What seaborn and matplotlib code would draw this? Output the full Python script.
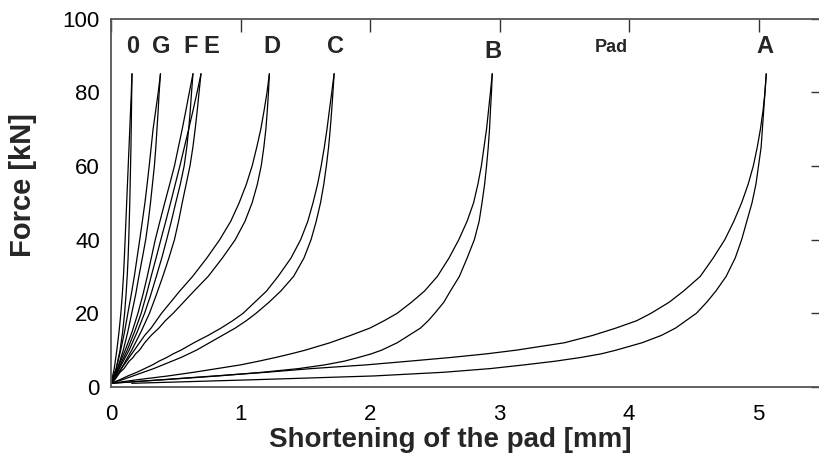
import numpy as np
import pandas as pd
import matplotlib
matplotlib.use("Agg")
import matplotlib.pyplot as plt
import seaborn as sns

force_stiff = [1, 5, 10, 15, 20, 25, 30, 35, 40, 45, 50, 55, 60, 65, 70, 75, 80, 85]
force_soft = [1, 2, 3, 4, 5, 6, 7, 8, 9, 10, 12, 14, 16, 18, 20, 23, 26, 30, 35,
              40, 45, 50, 55, 60, 65, 70, 75, 80, 85]

# Shortening [mm]: upper = left branch, lower = right branch of each loop
pad0_upper = [0, 0.025, 0.045, 0.062, 0.076, 0.087, 0.096, 0.103, 0.109, 0.115, 0.121, 0.127, 0.133, 0.139, 0.145, 0.151, 0.157, 0.162]
pad0_lower = [0, 0.04, 0.07, 0.09, 0.105, 0.116, 0.125, 0.132, 0.137, 0.141, 0.145, 0.148, 0.151, 0.154, 0.156, 0.158, 0.16, 0.162]
padG_upper = [0, 0.04, 0.075, 0.105, 0.13, 0.156, 0.18, 0.201, 0.222, 0.242, 0.262, 0.279, 0.295, 0.31, 0.325, 0.345, 0.365, 0.382]
padG_lower = [0, 0.05, 0.095, 0.13, 0.16, 0.19, 0.215, 0.242, 0.268, 0.288, 0.305, 0.32, 0.335, 0.346, 0.355, 0.364, 0.372, 0.382]
padF_upper = [0, 0.05, 0.11, 0.163, 0.208, 0.246, 0.28, 0.311, 0.342, 0.378, 0.415, 0.453, 0.49, 0.52, 0.55, 0.578, 0.605, 0.633]
padF_lower = [0, 0.065, 0.14, 0.203, 0.259, 0.307, 0.35, 0.392, 0.43, 0.466, 0.5, 0.535, 0.565, 0.585, 0.6, 0.612, 0.622, 0.633]
padE_upper = [0, 0.058, 0.125, 0.182, 0.233, 0.273, 0.31, 0.348, 0.385, 0.423, 0.46, 0.496, 0.532, 0.566, 0.6, 0.633, 0.665, 0.695]
padE_lower = [0, 0.08, 0.16, 0.232, 0.297, 0.35, 0.4, 0.447, 0.49, 0.522, 0.55, 0.58, 0.61, 0.632, 0.65, 0.666, 0.68, 0.695]

padD_upper = [0, 0.02, 0.04, 0.06, 0.08, 0.1, 0.12, 0.14, 0.16, 0.18, 0.22, 0.26, 0.31, 0.35, 0.39, 0.46, 0.53,
              0.63, 0.74, 0.84, 0.925, 0.99, 1.045, 1.09, 1.125, 1.157, 1.182, 1.205, 1.223]
padD_lower = [0, 0.03, 0.05, 0.07, 0.1, 0.12, 0.14, 0.17, 0.19, 0.22, 0.26, 0.31, 0.37, 0.42, 0.48, 0.56, 0.64,
              0.75, 0.86, 0.96, 1.035, 1.09, 1.13, 1.16, 1.18, 1.196, 1.207, 1.216, 1.223]
padC_upper = [0, 0.07, 0.13, 0.2, 0.26, 0.32, 0.37, 0.43, 0.48, 0.54, 0.64, 0.75, 0.85, 0.94, 1.02, 1.11, 1.2,
              1.29, 1.39, 1.465, 1.52, 1.56, 1.595, 1.623, 1.647, 1.668, 1.686, 1.705, 1.723]
padC_lower = [0, 0.09, 0.17, 0.25, 0.33, 0.4, 0.47, 0.54, 0.6, 0.66, 0.76, 0.86, 0.96, 1.045, 1.12, 1.22, 1.31,
              1.41, 1.49, 1.545, 1.585, 1.618, 1.643, 1.663, 1.68, 1.693, 1.704, 1.714, 1.723]
padB_upper = [0, 0.21, 0.44, 0.64, 0.82, 1.0, 1.14, 1.27, 1.39, 1.5, 1.69, 1.85, 2.0, 2.11, 2.21, 2.32, 2.42,
              2.52, 2.61, 2.686, 2.75, 2.8, 2.833, 2.86, 2.88, 2.9, 2.915, 2.93, 2.944]
padB_lower = [0, 0.42, 0.83, 1.17, 1.45, 1.65, 1.8, 1.91, 2.01, 2.09, 2.21, 2.3, 2.39, 2.45, 2.5, 2.57, 2.62,
              2.69, 2.75, 2.806, 2.843, 2.865, 2.885, 2.9, 2.913, 2.923, 2.93, 2.938, 2.944]
padA_upper = [0, 0.4, 0.8, 1.2, 1.55, 1.97, 2.3, 2.62, 2.9, 3.13, 3.5, 3.72, 3.9, 4.06, 4.17, 4.31, 4.42,
              4.55, 4.65, 4.74, 4.81, 4.87, 4.92, 4.96, 4.99, 5.015, 5.035, 5.05, 5.06]
padA_lower = [0.16, 1.13, 2.03, 2.57, 2.93, 3.19, 3.43, 3.625, 3.786, 3.9, 4.1, 4.25, 4.36, 4.44, 4.52, 4.6, 4.67,
              4.75, 4.82, 4.87, 4.91, 4.95, 4.98, 5.0, 5.02, 5.03, 5.04, 5.05, 5.06]

label_text = ["0", "G", "F", "E", "D", "C", "B", "A"]
label_x = [0.17, 0.385, 0.615, 0.777, 1.246, 1.73, 2.946, 5.05]
label_y = [92.3, 92.3, 92.3, 92.3, 92.3, 92.3, 91.0, 92.3]
pad_title = "Pad"
pad_title_xy = (3.86, 92.0)

x_ticks = [0, 1, 2, 3, 4, 5]
y_ticks = [0, 20, 40, 60, 80, 100]

curves = {
    "0u": (pad0_upper, force_stiff), "0l": (pad0_lower, force_stiff),
    "Gu": (padG_upper, force_stiff), "Gl": (padG_lower, force_stiff),
    "Fu": (padF_upper, force_stiff), "Fl": (padF_lower, force_stiff),
    "Eu": (padE_upper, force_stiff), "El": (padE_lower, force_stiff),
    "Du": (padD_upper, force_soft), "Dl": (padD_lower, force_soft),
    "Cu": (padC_upper, force_soft), "Cl": (padC_lower, force_soft),
    "Bu": (padB_upper, force_soft), "Bl": (padB_lower, force_soft),
    "Au": (padA_upper, force_soft), "Al": (padA_lower, force_soft),
}
frames = []
for name, (xs, fs) in curves.items():
    frames.append(pd.DataFrame({"x": xs, "force": fs, "curve": name}))
df = pd.concat(frames, ignore_index=True)

sns.set_style("white")
plt.rcParams["font.family"] = ["Liberation Sans", "DejaVu Sans"]

fig = plt.figure(figsize=(8.19, 4.72), dpi=100)
ax = fig.add_axes([111 / 819, 1 - 387 / 472, 5.5 * 129.5 / 819, 368.5 / 472])

sns.lineplot(data=df, x="x", y="force", units="curve", estimator=None, sort=False,
             color="black", linewidth=0.9, ax=ax, legend=False)
for ln in ax.get_lines():
    ln.set_solid_joinstyle("round")

ax.set_xlim(0, 5.5)
ax.set_ylim(0, 100)
ax.set_xticks(x_ticks)
ax.set_yticks(y_ticks)
ax.set_xticklabels([str(t) for t in x_ticks])
ax.set_yticklabels([str(t) for t in y_ticks])
ax.tick_params(direction="in", length=9, width=1, colors="#333333", labelcolor="black",
               labelsize=16, top=True, right=True)
ax.tick_params(axis="y", pad=8)
ax.tick_params(axis="x", pad=12)
for s in ax.spines.values():
    s.set_visible(True)
    s.set_color("#555555")
    s.set_linewidth(1.3)

ax.set_xlabel("Shortening of the pad [mm]", fontsize=20, fontweight="bold")
ax.set_ylabel("Force [kN]", fontsize=21, fontweight="bold")
ax.xaxis.set_label_coords((450 - 111) / 712, (387 - 427) / 368.5)
ax.yaxis.set_label_coords((37 - 111) / 712, (387 - 185) / 368.5)

for t, x, y in zip(label_text, label_x, label_y):
    ax.text(x, y, t, ha="center", va="center", fontsize=17, fontweight="bold")
ax.text(pad_title_xy[0], pad_title_xy[1], pad_title, ha="center", va="center",
        fontsize=13, fontweight="bold")

fig.savefig("out.png", dpi=100)
